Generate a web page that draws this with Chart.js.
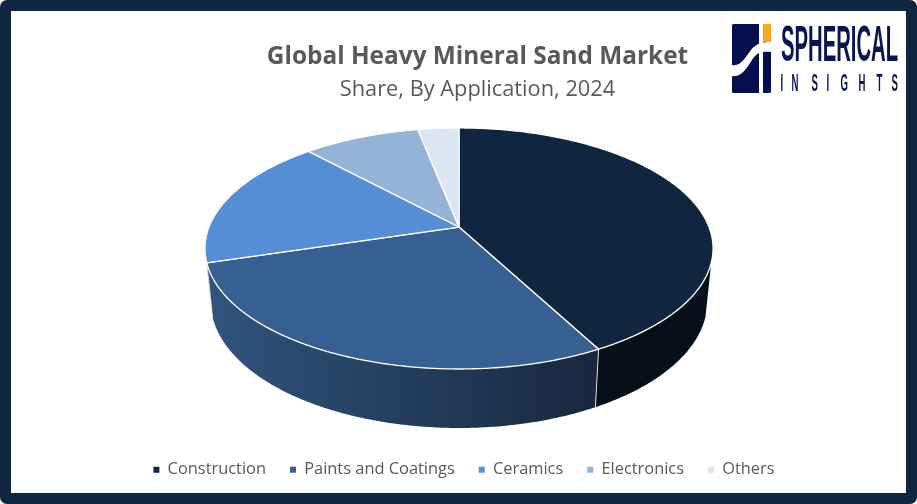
<!DOCTYPE html>
<html>
<head>
<meta charset="utf-8">
<style>
  html, body { margin: 0; padding: 0; background: #fff; }
  #wrap { position: relative; width: 917px; height: 504px; overflow: hidden; }
  #frame { position: absolute; inset: 0; box-sizing: border-box; border: 11px solid #10253f; border-radius: 7px; pointer-events: none; }
  #logo { position: absolute; left: 0; top: 0; }
  canvas { position: absolute; left: 0; top: 0; }
</style>
<script src="https://cdn.jsdelivr.net/npm/chart.js@4"></script>
</head>
<body>
<div id="wrap">
  <canvas id="chart" width="917" height="504"></canvas>
  <svg id="logo" width="917" height="110">
    <rect x="732" y="24" width="39" height="69" rx="1.5" fill="#050f4f"/>
    <rect x="759" y="24" width="4" height="69" fill="#fff"/>
    <rect x="763" y="24" width="8" height="18" fill="#fca61c"/>
    <path d="M732 65 C741 67 746 56 751 50 C755 45 760 42 771 42 L771 52 C760 51 757 53 752 60 C747 68 741 78 732 76 Z" fill="#fff"/>
    <text x="781" y="61" font-family="Liberation Sans" font-weight="700" font-size="50" fill="#0b1453" textLength="117" lengthAdjust="spacingAndGlyphs">SPHERICAL</text>
    <text transform="translate(781,91) scale(0.4,1)" x="-1 26 76 114 149 194 239 276" y="0" font-family="Liberation Sans" font-weight="700" font-size="24" fill="#0b1453">INSIGHTS</text>
  </svg>
  <div id="frame"></div>
</div>
<script>
const categories = ['Construction', 'Paints and Coatings', 'Ceramics', 'Electronics', 'Others'];
const shares = [42.2, 28.1, 17.8, 8.8, 3.1];
const sliceColors = ['#10253f', '#376092', '#558ed5', '#95b3d7', '#dce6f2'];
// side wall shading, left to right, per slice (only front slices show a wall)
const wallColors = [['#060e16', '#07111b'], ['#31547e', '#18273d'], null, null, null];

// the pie is a flat circle seen in perspective, like the Excel 3D pie
const tilt = 0.178;
const squash = 0.4668;
const centerLift = -48; // chart area centre -> pie apex
const wallFront = 0.29; // sin(angle) above which the wall is visible
const titleShift = 18.5; // title sits right of the pie
const legendShift = 5;

function project(arc, angle) {
  const cy = arc.y + centerLift;
  const v = Math.sin(angle);
  const s = 1 / (1 - tilt * v);
  return {
    x: arc.x + arc.outerRadius * Math.cos(angle) * s,
    y: cy + arc.outerRadius * squash * v * s
  };
}

function drop(arc, p) {
  const cy = arc.y + centerLift;
  return {
    x: arc.x + (p.x - arc.x) * 0.977,
    y: p.y + 52.3 + 0.047 * (p.y - cy)
  };
}

function rim(arc, from, to) {
  const pts = [];
  const steps = Math.max(2, Math.ceil((to - from) / 0.01));
  for (let i = 0; i <= steps; i++) {
    pts.push(project(arc, from + (to - from) * i / steps));
  }
  return pts;
}

const pie3d = {
  id: 'pie3d',
  afterLayout(chart) {
    chart.boxes.filter(b => b.position === 'top').forEach(b => {
      b.left += titleShift;
      b.right += titleShift;
    });
    chart.legend.left += legendShift;
    chart.legend.right += legendShift;
  },
  beforeDatasetDraw(chart, args) {
    const ctx = chart.ctx;
    const arcs = chart.getDatasetMeta(args.index).data;
    const lo = Math.asin(wallFront);
    const hi = Math.PI - lo;

    // walls first
    arcs.forEach((arc, i) => {
      if (!wallColors[i]) return;
      const from = Math.max(arc.startAngle, lo);
      const to = Math.min(arc.endAngle, hi);
      if (to <= from) return;
      const top = rim(arc, from, to);
      const bottom = top.map(p => drop(arc, p));
      const xs = top.concat(bottom).map(p => p.x);
      const grad = ctx.createLinearGradient(Math.min(...xs), 0, Math.max(...xs), 0);
      grad.addColorStop(0, wallColors[i][0]);
      grad.addColorStop(1, wallColors[i][1]);
      ctx.beginPath();
      top.forEach((p, n) => n ? ctx.lineTo(p.x, p.y) : ctx.moveTo(p.x, p.y));
      bottom.reverse().forEach(p => ctx.lineTo(p.x, p.y));
      ctx.closePath();
      ctx.fillStyle = grad;
      ctx.fill();
    });

    // white seam between walls
    arcs.forEach(arc => {
      if (arc.endAngle <= lo || arc.endAngle >= hi) return;
      const p = project(arc, arc.endAngle);
      const q = drop(arc, p);
      ctx.beginPath();
      ctx.moveTo(p.x, p.y);
      ctx.lineTo(q.x, q.y);
      ctx.strokeStyle = '#d9d9d9';
      ctx.lineWidth = 1;
      ctx.stroke();
    });

    // top faces
    arcs.forEach(arc => {
      const c = project(arc, 0);
      const pts = rim(arc, arc.startAngle, arc.endAngle);
      ctx.beginPath();
      ctx.moveTo(arc.x, c.y);
      pts.forEach(p => ctx.lineTo(p.x, p.y));
      ctx.closePath();
      ctx.fillStyle = arc.options.backgroundColor;
      ctx.fill();
      ctx.strokeStyle = '#fff';
      ctx.lineWidth = 1.3;
      ctx.lineJoin = 'round';
      ctx.stroke();
    });
    return false;
  }
};

new Chart(document.getElementById('chart'), {
  type: 'pie',
  data: {
    labels: categories,
    datasets: [{ data: shares, backgroundColor: sliceColors, borderWidth: 0, radius: 250 }]
  },
  plugins: [pie3d],
  options: {
    responsive: false,
    animation: false,
    layout: { padding: { top: 0, bottom: 16, left: 1 } },
    plugins: {
      tooltip: { enabled: false },
      title: {
        display: true,
        text: 'Global Heavy Mineral Sand Market',
        color: '#595959',
        font: { family: '"Open Sans"', size: 24.4, weight: '700' },
        padding: { top: 42, bottom: 5 }
      },
      subtitle: {
        display: true,
        text: 'Share, By Application, 2024',
        color: '#595959',
        font: { family: '"Open Sans"', size: 21.8, weight: '400' },
        padding: { top: 0, bottom: 10 }
      },
      legend: {
        position: 'bottom',
        labels: {
          color: '#595959',
          font: { family: '"Open Sans"', size: 16.4 },
          boxWidth: 6,
          boxHeight: 6,
          padding: 24,
          generateLabels(chart) {
            return categories.map((name, i) => ({
              text: name,
              fillStyle: sliceColors[i],
              strokeStyle: sliceColors[i],
              lineWidth: 0,
              fontColor: '#595959',
              index: i
            }));
          }
        }
      }
    }
  }
});
</script>
</body>
</html>
